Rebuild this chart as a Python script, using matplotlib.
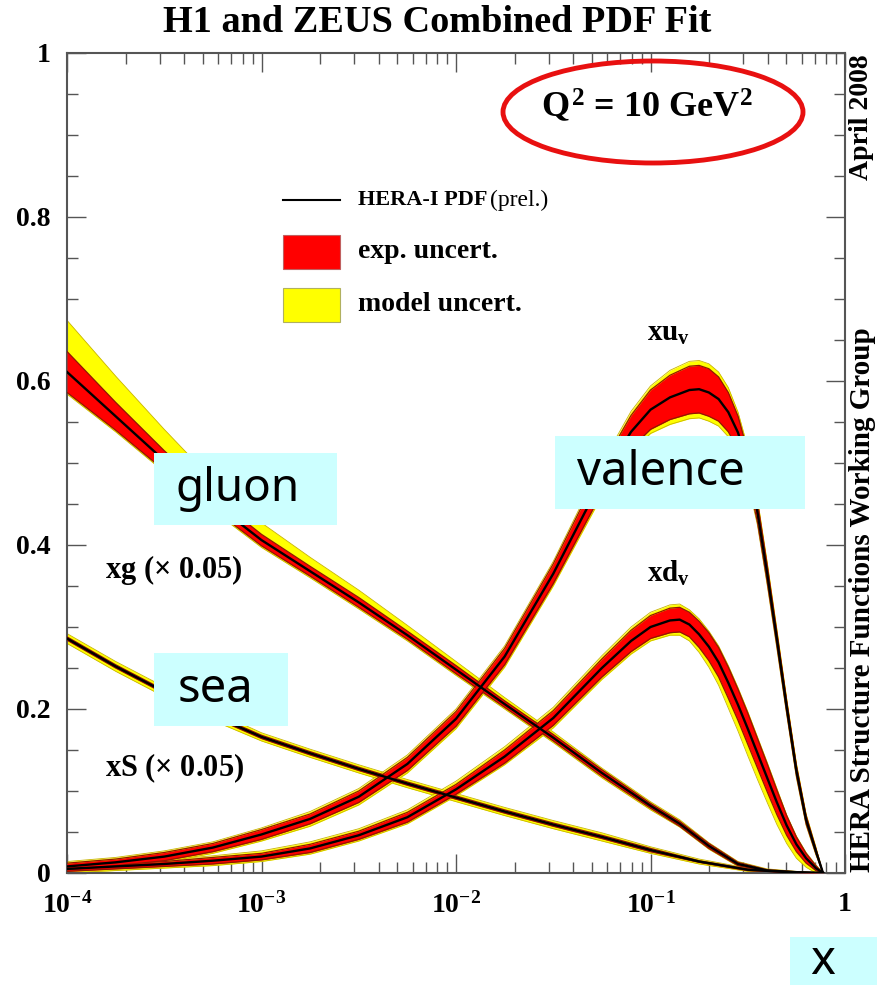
import numpy as np
import matplotlib
matplotlib.use("Agg")
import matplotlib.pyplot as plt
from matplotlib.patches import Ellipse, Rectangle
from matplotlib.ticker import FixedLocator, NullFormatter, MultipleLocator

plt.rcParams['mathtext.fontset'] = 'custom'
plt.rcParams['mathtext.rm'] = 'Liberation Serif:bold'
plt.rcParams['mathtext.it'] = 'Liberation Serif:bold'
plt.rcParams['mathtext.bf'] = 'Liberation Serif:bold'
SERIF = 'Liberation Serif'

# ---------------- data ----------------
# x positions are given as log10(x)
gluon_logx = [-4.0, -3.75, -3.5, -3.25, -3.0, -2.75, -2.5, -2.25, -2.0, -1.75, -1.5, -1.25, -1.0, -0.85, -0.7, -0.55, -0.4, -0.25, -0.113]
gluon_c = [0.611, 0.557, 0.503, 0.452, 0.406, 0.368, 0.330, 0.290, 0.248, 0.206, 0.165, 0.122, 0.082, 0.060, 0.033, 0.011, 0.003, 0.001, 0.0]
gluon_exp = [0.025, 0.017, 0.012, 0.008, 0.007, 0.006, 0.006, 0.005, 0.005, 0.004, 0.004, 0.004, 0.003, 0.003, 0.003, 0.002, 0.001, 0.0005, 0.0]
gluon_mod_up = [0.038, 0.032, 0.026, 0.019, 0.014, 0.011, 0.009, 0.007, 0.005, 0.004, 0.003, 0.002, 0.002, 0.002, 0.001, 0.001, 0.001, 0.0005, 0.0]
gluon_mod_dn = [0.002, 0.002, 0.002, 0.002, 0.002, 0.002, 0.002, 0.002, 0.002, 0.002, 0.002, 0.002, 0.002, 0.001, 0.001, 0.001, 0.0005, 0.0, 0.0]

sea_logx = [-4.0, -3.75, -3.5, -3.25, -3.0, -2.75, -2.5, -2.25, -2.0, -1.75, -1.5, -1.25, -1.0, -0.75, -0.5, -0.25, -0.113]
sea_c = [0.286, 0.252, 0.221, 0.192, 0.166, 0.146, 0.127, 0.109, 0.092, 0.075, 0.059, 0.044, 0.028, 0.014, 0.004, 0.0005, 0.0]
sea_exp = [0.002, 0.002, 0.002, 0.002, 0.002, 0.002, 0.002, 0.002, 0.002, 0.002, 0.002, 0.002, 0.002, 0.001, 0.001, 0.0, 0.0]
sea_mod = [0.004, 0.004, 0.004, 0.004, 0.003, 0.003, 0.003, 0.003, 0.003, 0.003, 0.003, 0.003, 0.002, 0.002, 0.001, 0.0, 0.0]

uv_logx = [-4.0, -3.75, -3.5, -3.25, -3.0, -2.75, -2.5, -2.25, -2.0, -1.75, -1.5, -1.25, -1.1, -1.0, -0.9, -0.8, -0.75, -0.7, -0.65, -0.6, -0.55, -0.5, -0.45, -0.4, -0.35, -0.3, -0.25, -0.2, -0.15, -0.113]
uv_c = [0.008, 0.013, 0.020, 0.031, 0.047, 0.066, 0.093, 0.133, 0.188, 0.264, 0.365, 0.480, 0.538, 0.565, 0.580, 0.589, 0.590, 0.586, 0.578, 0.562, 0.537, 0.498, 0.440, 0.365, 0.285, 0.203, 0.125, 0.065, 0.027, 0.0]
uv_exp = [0.004, 0.004, 0.005, 0.005, 0.006, 0.006, 0.007, 0.008, 0.009, 0.010, 0.012, 0.016, 0.020, 0.024, 0.027, 0.029, 0.029, 0.029, 0.027, 0.024, 0.020, 0.016, 0.012, 0.010, 0.008, 0.007, 0.006, 0.005, 0.003, 0.0]
uv_mod = [0.002, 0.002, 0.002, 0.002, 0.002, 0.003, 0.003, 0.003, 0.003, 0.003, 0.003, 0.004, 0.005, 0.005, 0.006, 0.006, 0.006, 0.006, 0.006, 0.006, 0.005, 0.005, 0.004, 0.004, 0.004, 0.003, 0.003, 0.002, 0.002, 0.0]

dv_logx = [-4.0, -3.75, -3.5, -3.25, -3.0, -2.75, -2.5, -2.25, -2.0, -1.75, -1.5, -1.25, -1.1, -1.0, -0.9, -0.85, -0.8, -0.75, -0.7, -0.65, -0.6, -0.55, -0.5, -0.45, -0.4, -0.35, -0.3, -0.25, -0.2, -0.15, -0.113]
dv_c = [0.005, 0.008, 0.011, 0.015, 0.020, 0.030, 0.046, 0.068, 0.102, 0.142, 0.189, 0.250, 0.283, 0.300, 0.308, 0.309, 0.303, 0.291, 0.276, 0.257, 0.232, 0.205, 0.176, 0.146, 0.116, 0.086, 0.058, 0.035, 0.018, 0.006, 0.0]
dv_exp = [0.003, 0.003, 0.003, 0.004, 0.004, 0.005, 0.005, 0.006, 0.006, 0.008, 0.009, 0.011, 0.013, 0.014, 0.015, 0.015, 0.015, 0.016, 0.017, 0.018, 0.019, 0.019, 0.019, 0.018, 0.017, 0.015, 0.012, 0.009, 0.006, 0.003, 0.0]
dv_mod_up = [0.002, 0.002, 0.002, 0.002, 0.003, 0.003, 0.003, 0.003, 0.004, 0.004, 0.004, 0.004, 0.004, 0.004, 0.004, 0.004, 0.003, 0.003, 0.002, 0.002, 0.002, 0.002, 0.002, 0.002, 0.002, 0.002, 0.001, 0.001, 0.001, 0.001, 0.0]
dv_mod_dn = [0.002, 0.002, 0.002, 0.002, 0.002, 0.002, 0.002, 0.002, 0.002, 0.002, 0.003, 0.003, 0.003, 0.003, 0.003, 0.004, 0.005, 0.006, 0.008, 0.010, 0.012, 0.013, 0.014, 0.014, 0.013, 0.012, 0.010, 0.008, 0.005, 0.003, 0.0]

x_tick_vals = [1e-4, 1e-3, 1e-2, 1e-1, 1]
x_tick_labels = [r'$10^{-4}$', r'$10^{-3}$', r'$10^{-2}$', r'$10^{-1}$', '1']
y_tick_vals = [0, 0.2, 0.4, 0.6, 0.8, 1]
y_tick_labels = ['0', '0.2', '0.4', '0.6', '0.8', '1']

title = 'H1 and ZEUS Combined PDF Fit'
legend_labels = ['HERA-I PDF', '(prel.)', 'exp. uncert.', 'model uncert.']

RED = '#ff0000'
YEL = '#ffff00'
CYAN = '#ccffff'

W, H = 877, 985
fig = plt.figure(figsize=(W / 100, H / 100), dpi=100)
ax = fig.add_axes([67 / W, 1 - 873 / H, (845 - 67) / W, (873 - 53) / H])


def band(logx, c, exp_up, exp_dn, mod_up, mod_dn):
    x = 10.0 ** np.array(logx); c = np.array(c)
    eu = np.array(exp_up); ed = np.array(exp_dn)
    mu = np.array(mod_up); md = np.array(mod_dn)
    ax.fill_between(x, c - ed - md, c + eu + mu, color=YEL, lw=0, zorder=2)
    ax.plot(x, c + eu + mu, color='#c8b400', lw=0.6, zorder=2)
    ax.plot(x, c - ed - md, color='#c8b400', lw=0.6, zorder=2)
    ax.fill_between(x, c - ed, c + eu, color=RED, lw=0, zorder=3)
    ax.plot(x, c + eu, color='#901800', lw=0.9, zorder=3)
    ax.plot(x, c - ed, color='#901800', lw=0.9, zorder=3)
    ax.plot(x, c, color='black', lw=1.7, zorder=4, solid_joinstyle='round')


band(sea_logx, sea_c, sea_exp, sea_exp, sea_mod, sea_mod)
band(gluon_logx, gluon_c, gluon_exp, gluon_exp, gluon_mod_up, gluon_mod_dn)
band(dv_logx, dv_c, dv_exp, dv_exp, dv_mod_up, dv_mod_dn)
band(uv_logx, uv_c, uv_exp, uv_exp, uv_mod, uv_mod)

ax.set_xscale('log')
ax.set_xlim(1e-4, 1)
ax.set_ylim(0, 1)
ax.xaxis.set_major_locator(FixedLocator(x_tick_vals))
ax.xaxis.set_minor_locator(FixedLocator([m * 10.0 ** e for e in range(-4, 0) for m in range(2, 10)]))
ax.xaxis.set_minor_formatter(NullFormatter())
ax.set_xticklabels(x_tick_labels)
ax.yaxis.set_major_locator(FixedLocator(y_tick_vals))
ax.yaxis.set_minor_locator(MultipleLocator(0.05))
ax.set_yticklabels(y_tick_labels)
ax.tick_params(which='both', direction='in', top=True, right=True, color='#555555', width=1.0)
ax.tick_params(which='major', length=14)
ax.tick_params(which='minor', length=8)
ax.tick_params(axis='x', which='major', pad=14)
ax.tick_params(axis='y', which='major', pad=12)
for lab in ax.get_xticklabels() + ax.get_yticklabels():
    lab.set_fontfamily(SERIF)
    lab.set_fontweight('bold')
    lab.set_fontsize(20)
for s in ax.spines.values():
    s.set_color('#555555')
    s.set_linewidth(1.5)

# title
fig.text(437 / W, 1 - 23 / H, title, ha='center', va='center', fontsize=27.5,
         family=SERIF, weight='bold')

# right side texts
fig.text(862 / W, 1 - 600 / H, 'HERA Structure Functions Working Group', rotation=90,
         ha='center', va='center', fontsize=21, family=SERIF, weight='bold')
fig.text(862 / W, 1 - 117 / H, 'April 2008', rotation=90, ha='center', va='center',
         fontsize=20, family=SERIF, weight='bold')

# Q^2 label + ellipse
fig.text(647 / W, 1 - 106 / H, r'$Q^2$ = 10 GeV$^2$', ha='center', va='center',
         fontsize=26, family=SERIF, weight='bold')
fig.patches.append(Ellipse((653 / W, 1 - 112 / H), 300 / W, 102 / H, transform=fig.transFigure,
                           fill=False, edgecolor='#e81010', lw=3.5, zorder=10))

# legend
fig.add_artist(plt.Line2D([283 / W, 340 / W], [1 - 200 / H, 1 - 200 / H], color='black',
                          lw=1.5, transform=fig.transFigure))
fig.text(358 / W, 1 - 200 / H, legend_labels[0], ha='left', va='center', fontsize=16,
         family=SERIF, weight='bold')
fig.text(490 / W, 1 - 200 / H, legend_labels[1], ha='left', va='center', fontsize=17,
         family=SERIF)
fig.patches.append(Rectangle((283 / W, 1 - 269 / H), 57 / W, 34 / H, transform=fig.transFigure,
                             facecolor=RED, edgecolor='#c06060', lw=0.8))
fig.text(358 / W, 1 - 252 / H, legend_labels[2], ha='left', va='center', fontsize=20,
         family=SERIF, weight='bold')
fig.patches.append(Rectangle((283 / W, 1 - 322 / H), 57 / W, 34 / H, transform=fig.transFigure,
                             facecolor=YEL, edgecolor='#b0b060', lw=0.8))
fig.text(358 / W, 1 - 305 / H, legend_labels[3], ha='left', va='center', fontsize=20,
         family=SERIF, weight='bold')

# curve labels
fig.text(668 / W, 1 - 333 / H, r'$xu_v$', ha='center', va='center', fontsize=21)
fig.text(668 / W, 1 - 573 / H, r'$xd_v$', ha='center', va='center', fontsize=21)
fig.text(105 / W, 1 - 570 / H, r'xg ($\times$ 0.05)', ha='left', va='center', fontsize=22,
         family=SERIF, weight='bold')
fig.text(105 / W, 1 - 768 / H, r'xS ($\times$ 0.05)', ha='left', va='center', fontsize=22,
         family=SERIF, weight='bold')

# cyan annotation boxes
def cyan_box(x0, y0, x1, y1, text, tx, fs):
    fig.patches.append(Rectangle((x0 / W, 1 - y1 / H), (x1 - x0) / W, (y1 - y0) / H,
                                 transform=fig.transFigure, facecolor=CYAN, edgecolor='none',
                                 zorder=20))
    fig.text(tx / W, 1 - (y0 + y1) / 2 / H, text, ha='left', va='center', fontsize=fs,
             family='Noto Sans', zorder=21)

cyan_box(154, 453, 337, 525, 'gluon', 176, 33)
cyan_box(555, 436, 805, 509, 'valence', 577, 34)
cyan_box(154, 653, 288, 726, 'sea', 178, 34)
cyan_box(790, 937, 877, 985, 'x', 810, 34)

fig.savefig('out.png', dpi=100)
